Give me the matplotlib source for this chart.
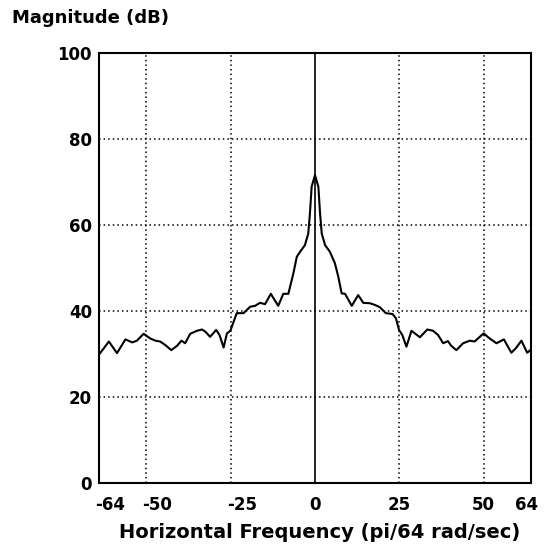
import matplotlib
matplotlib.use("Agg")
import matplotlib.pyplot as plt
from matplotlib.transforms import ScaledTranslation

# Horizontal-frequency magnitude response
freq = [-64.1, -61.1, -58.7, -56.2, -54.2, -52.8, -50.8, -48.8, -47.3, -45.9,
        -44.4, -42.6, -40.9, -39.6, -38.5, -37.0, -35.0, -33.5, -32.5, -31.1,
        -29.3, -28.3, -27.1, -26.1, -25.1, -23.2, -21.2, -19.2, -17.8, -16.3,
        -14.8, -13.1, -10.9, -9.4, -7.9, -6.9, -6.4, -5.4, -4.4, -3.0,
        -2.0, -1.5, -1.0, 0.0, 1.0, 1.5, 2.0, 3.0, 4.4, 5.9,
        6.9, 7.9, 8.9, 10.9, 12.8, 14.3, 16.3, 17.8, 19.2, 21.0,
        23.0, 24.0, 24.9, 25.9, 27.1, 28.6, 31.1, 33.3, 35.0, 36.5,
        38.0, 39.4, 40.4, 41.9, 43.9, 45.9, 47.3, 50.0, 51.8, 53.8,
        56.0, 58.2, 59.5, 61.2, 62.9, 64.0]
mag_db = [29.8, 32.9, 30.2, 33.4, 32.7, 33.1, 34.7, 33.6, 33.1, 32.9,
          32.1, 30.9, 31.9, 33.1, 32.5, 34.7, 35.4, 35.7, 35.2, 34.0,
          35.6, 34.4, 31.5, 34.8, 35.4, 39.5, 39.5, 41.0, 41.2, 41.9,
          41.6, 44.0, 41.2, 44.0, 44.0, 47.2, 48.8, 52.6, 53.8, 55.3,
          58.0, 62.7, 68.9, 71.6, 68.9, 62.7, 58.0, 55.3, 53.8, 51.1,
          48.0, 44.1, 44.0, 41.2, 43.7, 41.9, 41.8, 41.4, 40.9, 39.5,
          39.3, 38.3, 35.6, 34.4, 31.7, 35.4, 33.9, 35.7, 35.4, 34.4,
          32.5, 33.0, 31.9, 30.9, 32.5, 33.1, 32.9, 34.8, 33.6, 32.5,
          33.4, 30.3, 31.3, 33.1, 30.3, 31.0]

x_ticks = [-64, -50, -25, 0, 25, 50, 64]
x_grid = [-50, -25, 25, 50]
y_ticks = [0, 20, 40, 60, 80, 100]
y_grid = [20, 40, 60, 80]

fig = plt.figure(figsize=(5.6, 5.51), dpi=100)
ax = fig.add_axes([0.177, 0.1234, 0.771, 0.7804])

ax.set_xlim(-64, 64)
ax.set_ylim(0, 100)

dots = (0, (1.0, 2.0))
for g in x_grid:
    ax.axvline(g, color="black", linestyle=dots, linewidth=1.1, zorder=1)
for g in y_grid:
    ax.axhline(g, color="black", linestyle=dots, linewidth=1.1, zorder=1)
ax.axvline(0, color="black", linewidth=1.2, zorder=2)

ax.plot(freq, mag_db, color="black", linewidth=1.5, zorder=3)

ax.set_xticks(x_ticks)
ax.set_xticklabels([str(t) for t in x_ticks])
ax.set_yticks(y_ticks)
ax.set_yticklabels([str(t) for t in y_ticks])
ax.tick_params(axis="x", length=0, pad=9, labelsize=12)
ax.tick_params(axis="y", length=0, pad=5, labelsize=12)
for lab in ax.get_xticklabels() + ax.get_yticklabels():
    lab.set_fontweight("bold")

# nudge negative labels so the minus sign hangs left of the digits' centre
for val, lab in zip(x_ticks, ax.get_xticklabels()):
    if val < 0:
        shift = 11
    elif val == 64:
        shift = -4
    else:
        shift = 0
    if shift:
        lab.set_transform(lab.get_transform()
                          + ScaledTranslation(shift / 100, 0, fig.dpi_scale_trans))

for s in ax.spines.values():
    s.set_linewidth(1.5)

fig.text(0.571, 0.033, "Horizontal Frequency (pi/64 rad/sec)", fontsize=14,
         fontweight="bold", ha="center", va="center")
fig.text(0.022, 0.967, "Magnitude (dB)", fontsize=13, fontweight="bold",
         ha="left", va="center")

fig.savefig("out.png", dpi=100)
